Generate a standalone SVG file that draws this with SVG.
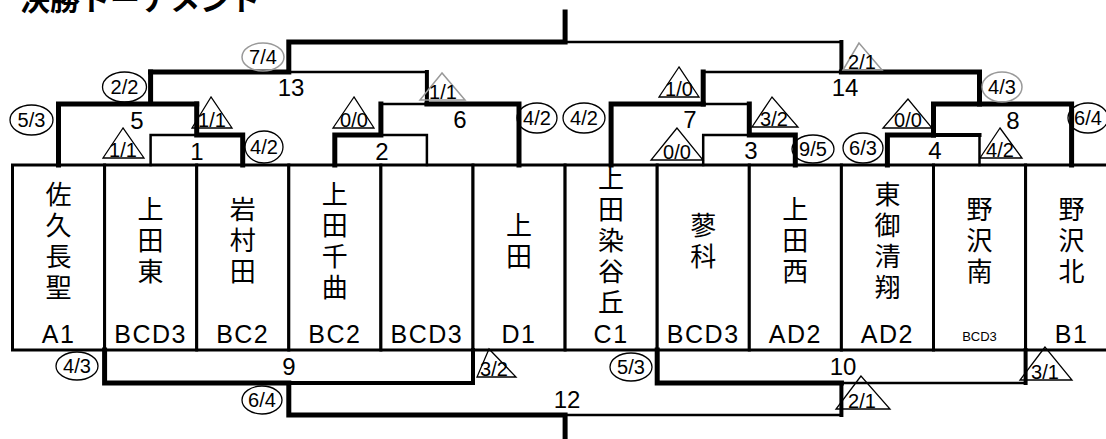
<svg xmlns="http://www.w3.org/2000/svg" width="1106" height="439" viewBox="0 0 1106 439">
<style>
.box{fill:#fff;stroke:#000;stroke-width:3}
.nm{font-family:"Noto Sans CJK JP","Noto Sans CJK SC",sans-serif;font-size:26px;text-anchor:middle;writing-mode:vertical-rl;letter-spacing:5px;fill:#000}
.cd{font-family:"Liberation Sans",Arial,sans-serif;font-size:25px;text-anchor:middle;letter-spacing:1.5px;fill:#000}
.k{fill:none;stroke:#000;stroke-width:5;stroke-linecap:square}
.m{fill:none;stroke:#000;stroke-width:4;stroke-linecap:square}
.t{fill:none;stroke:#000;stroke-width:2.5;stroke-linecap:square}
.lb{font-family:"Liberation Sans",Arial,sans-serif;font-size:24px;text-anchor:middle;fill:#000}
.sc{font-family:"Liberation Sans",Arial,sans-serif;font-size:20px;text-anchor:middle;fill:#000}
.c{fill:none;stroke:#000;stroke-width:1.3}
.cg{fill:none;stroke:#999;stroke-width:1.5}
.tr{fill:none;stroke:#000;stroke-width:1.3}
.tg{fill:none;stroke:#999;stroke-width:1.5}
.ttl{font-family:"Noto Sans CJK JP","Noto Sans CJK SC",sans-serif;font-size:30px;font-weight:bold;fill:#000}
</style>
<rect width="1106" height="439" fill="#fff"/>
<text class="ttl" x="20" y="10">決勝トーナメント</text>

<g id="team0"><rect class="box" x="12.5" y="165" width="92.1" height="185"/>
<text class="nm" x="58.5" y="243">佐久長聖</text>
<text class="cd" x="58.5" y="343">A1</text></g>
<g id="team1"><rect class="box" x="104.6" y="165" width="92.1" height="185"/>
<text class="nm" x="150.6" y="243">上田東</text>
<text class="cd" x="150.6" y="343">BCD3</text></g>
<g id="team2"><rect class="box" x="196.7" y="165" width="92.1" height="185"/>
<text class="nm" x="242.7" y="243">岩村田</text>
<text class="cd" x="242.7" y="343">BC2</text></g>
<g id="team3"><rect class="box" x="288.8" y="165" width="92.1" height="185"/>
<text class="nm" x="334.8" y="243">上田千曲</text>
<text class="cd" x="334.8" y="343">BC2</text></g>
<g id="team4"><rect class="box" x="380.9" y="165" width="92.1" height="185"/>
<text class="cd" x="426.9" y="343">BCD3</text></g>
<g id="team5"><rect class="box" x="473" y="165" width="92.1" height="185"/>
<text class="nm" x="519" y="243">上田</text>
<text class="cd" x="519" y="343">D1</text></g>
<g id="team6"><rect class="box" x="565.1" y="165" width="92.1" height="185"/>
<text class="nm" x="611.1" y="243">上田染谷丘</text>
<text class="cd" x="611.1" y="343">C1</text></g>
<g id="team7"><rect class="box" x="657.2" y="165" width="92.1" height="185"/>
<text class="nm" x="703.2" y="243">蓼科</text>
<text class="cd" x="703.2" y="343">BCD3</text></g>
<g id="team8"><rect class="box" x="749.3" y="165" width="92.1" height="185"/>
<text class="nm" x="795.3" y="243">上田西</text>
<text class="cd" x="795.3" y="343">AD2</text></g>
<g id="team9"><rect class="box" x="841.4" y="165" width="92.1" height="185"/>
<text class="nm" x="887.4" y="243">東御清翔</text>
<text class="cd" x="887.4" y="343">AD2</text></g>
<g id="team10"><rect class="box" x="933.5" y="165" width="92.1" height="185"/>
<text class="nm" x="979.5" y="243">野沢南</text>
<text class="cd" x="979.5" y="341" style="font-size:13px;letter-spacing:0">BCD3</text></g>
<g id="team11"><rect class="box" x="1025.6" y="165" width="92.1" height="185"/>
<text class="nm" x="1071.6" y="243">野沢北</text>
<text class="cd" x="1071.6" y="343">B1</text></g>

<g id="connectors">
<path class="t" d="M150.6,165V135H196.7"/>
<path class="k" d="M196.7,135H242.7V165M196.7,135V104"/>
<path class="k" d="M58.5,165V104H196.7M150.6,104V72"/>
<path class="k" d="M334.8,165V135H380.9V104"/>
<path class="t" d="M380.9,135H426.9V165"/>
<path class="t" d="M380.9,104H426.9"/>
<path class="k" d="M426.9,104H519V165"/>
<path class="m" d="M426.9,104V72"/>
<path class="k" d="M150.6,72H288.8V42H565.1V12"/>
<path class="t" d="M288.8,72H426.9"/>
<path class="t" d="M565.1,42H841.4"/>
<path class="m" d="M841.4,42V72"/>
<path class="t" d="M703.2,72H841.4"/>
<path class="k" d="M841.4,72H979.5V104"/>
<path class="k" d="M703.2,72V104"/>
<path class="k" d="M611.1,165V104H703.2"/>
<path class="t" d="M703.2,104H749.3"/>
<path class="k" d="M749.3,104V135H795.3V165"/>
<path class="t" d="M703.2,165V135H749.3"/>
<path class="k" d="M933.5,135V104H1071.6V165"/>
<path class="k" d="M887.4,165V135H933.5"/>
<path class="m" d="M933.5,135H979.5"/>
<path class="t" d="M979.5,135V165"/>
<path class="k" d="M104.6,350V383H288.8V415H565.1V439"/>
<path class="m" d="M288.8,383H473V350"/>
<path class="t" d="M565.1,415H841.4"/>
<path class="k" d="M657.2,350V383H841.4"/>
<path class="t" d="M841.4,383H1025.6"/>
<path class="m" d="M1025.6,383V350M841.4,383V415"/>
</g>

<g id="match-labels">
<text class="lb" x="291" y="96">13</text>
<text class="lb" x="137" y="129">5</text>
<text class="lb" x="197" y="160">1</text>
<text class="lb" x="382" y="160">2</text>
<text class="lb" x="460" y="128">6</text>
<text class="lb" x="690" y="128">7</text>
<text class="lb" x="751" y="159">3</text>
<text class="lb" x="845" y="96">14</text>
<text class="lb" x="935" y="159">4</text>
<text class="lb" x="1013" y="129">8</text>
<text class="lb" x="289" y="375">9</text>
<text class="lb" x="843" y="375">10</text>
<text class="lb" x="567" y="408">12</text>
</g>

<g id="scores">
<ellipse class="c" cx="31.5" cy="120" rx="21.5" ry="15"/><text class="sc" x="31.5" y="127">5/3</text>
<ellipse class="c" cx="124.5" cy="87" rx="22" ry="15"/><text class="sc" x="124.5" y="94">2/2</text>
<polygon class="tr" points="123,128 103,158 144,158"/><text class="sc" x="123" y="157">1/1</text>
<polygon class="tr" points="211,97 192,128 232,128"/><text class="sc" x="212" y="127">1/1</text>
<ellipse class="c" cx="264" cy="147" rx="19" ry="16"/><text class="sc" x="264" y="154">4/2</text>
<ellipse class="cg" cx="263" cy="57" rx="21" ry="14"/><text class="sc" x="263" y="64">7/4</text>
<polygon class="tr" points="354,97 333,128 374,128"/><text class="sc" x="354" y="127">0/0</text>
<polygon class="tg" points="442,73 420,100 465,100"/><text class="sc" x="443" y="99">1/1</text>
<ellipse class="c" cx="537" cy="118" rx="20" ry="15"/><text class="sc" x="537" y="125">4/2</text>
<ellipse class="c" cx="584" cy="118" rx="21" ry="15"/><text class="sc" x="584" y="125">4/2</text>
<polygon class="tr" points="679,67 659,97 699,97"/><text class="sc" x="679" y="96">1/0</text>
<polygon class="tr" points="772,97 752,127 798,127"/><text class="sc" x="774" y="126">3/2</text>
<polygon class="tr" points="677,128 651,160 703,160"/><text class="sc" x="677" y="159">0/0</text>
<ellipse class="c" cx="813" cy="149" rx="21" ry="14"/><text class="sc" x="813" y="156">9/5</text>
<polygon class="tg" points="859,43 843,70 882,70"/><text class="sc" x="862" y="69">2/1</text>
<ellipse class="c" cx="863" cy="148" rx="20" ry="15"/><text class="sc" x="863" y="155">6/3</text>
<ellipse class="cg" cx="1002" cy="87" rx="20" ry="15"/><text class="sc" x="1002" y="94">4/3</text>
<polygon class="tr" points="908,99 883,128 932,128"/><text class="sc" x="908" y="127">0/0</text>
<polygon class="tr" points="1000,128 980,158 1022,158"/><text class="sc" x="1000" y="157">4/2</text>
<ellipse class="c" cx="1088" cy="118" rx="20" ry="15"/><text class="sc" x="1088" y="125">6/4</text>
<ellipse class="c" cx="77" cy="366" rx="21" ry="14"/><text class="sc" x="77" y="373">4/3</text>
<polygon class="tr" points="489,349 477,377 516,377"/><text class="sc" x="494" y="376">3/2</text>
<ellipse class="c" cx="262" cy="400" rx="20" ry="14"/><text class="sc" x="262" y="407">6/4</text>
<ellipse class="c" cx="631" cy="367" rx="21" ry="14"/><text class="sc" x="631" y="374">5/3</text>
<polygon class="tr" points="1045,347 1020,380 1072,380"/><text class="sc" x="1045" y="379">3/1</text>
<polygon class="tr" points="861,376 836,409 890,409"/><text class="sc" x="862" y="408">2/1</text>
</g>
</svg>
